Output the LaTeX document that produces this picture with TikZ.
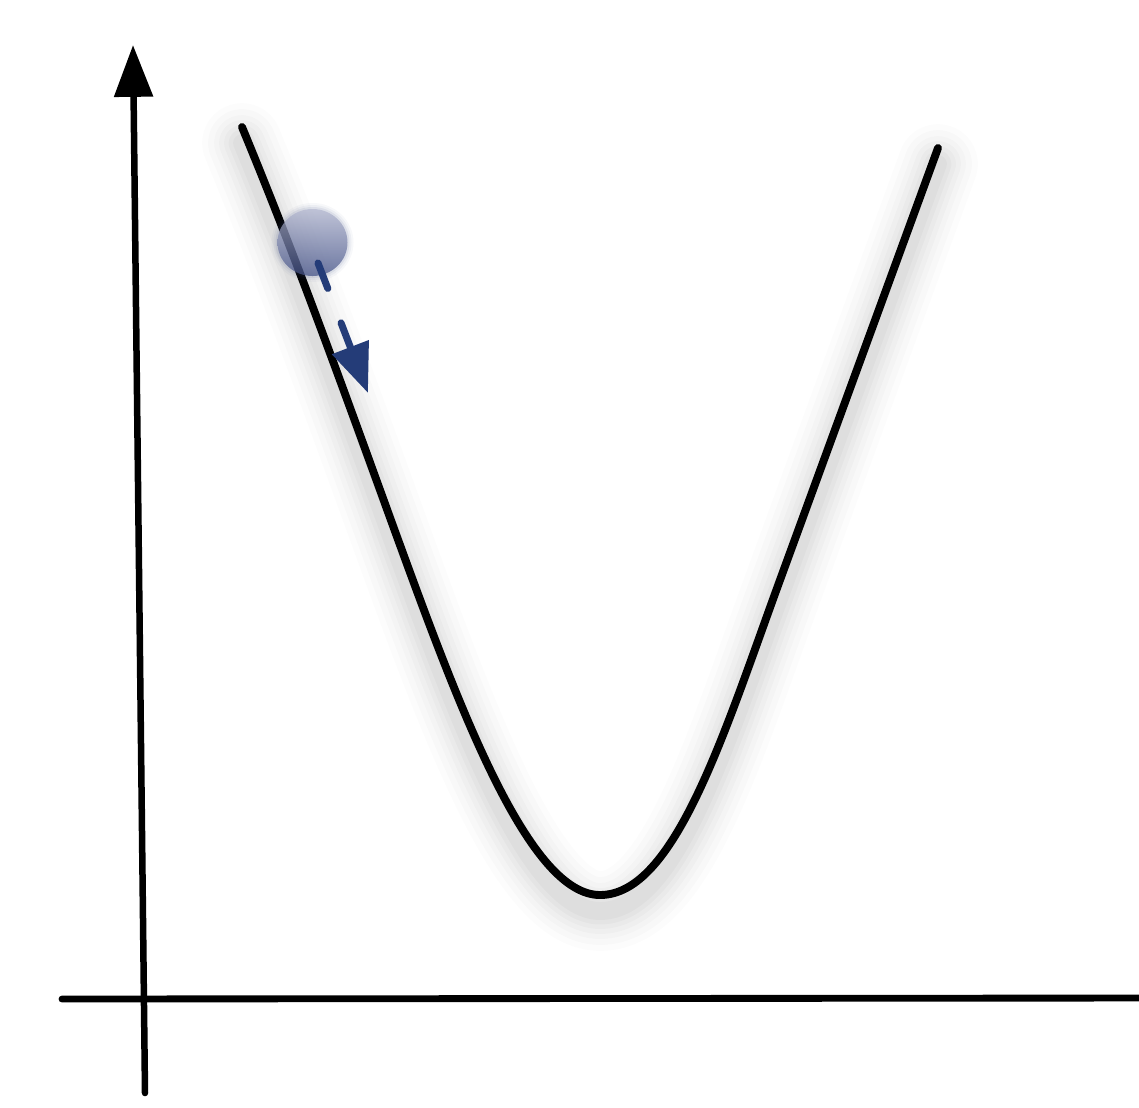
\documentclass[tikz,border=0pt]{standalone}
\usetikzlibrary{arrows.meta}
\definecolor{navyblue}{RGB}{36,60,120}
\definecolor{balltop}{RGB}{180,184,208}
\definecolor{ballbot}{RGB}{66,80,134}
\begin{document}
\begin{tikzpicture}[x=0.02cm,y=-0.02cm,
  axisline/.style={line width=3.9pt, line cap=round},
  curveline/.style={line width=4.5pt, line cap=round, line join=round},
  glow/.style={black, line cap=round, line join=round},
  movearrow/.style={navyblue, line width=4pt, line cap=round,
     dash pattern=on 15.5pt off 21pt,
     -{Triangle[length=28pt,width=21.5pt,line cap=butt]}},
]
\fill[white] (0,0) rectangle (1139,1107);
\useasboundingbox (0,0) rectangle (1139,1107);

% coordinates
\coordinate (yb) at (145,1093);
\coordinate (yt) at (133,45);
\coordinate (xl) at (62,999);
\coordinate (xr) at (1150,998);
\coordinate (ballc) at (312.5,242.5);
\coordinate (atail) at (318,263);
\coordinate (atip) at (368,393);

% soft shadow of curve
\foreach \w/\o in {80/0.012,68/0.014,56/0.016,46/0.018,36/0.02,27/0.022,18/0.024}{
  \draw[glow, line width=\w*0.567pt, opacity=\o, shift={(0,16)}]
    (242,127) .. controls (300,267) and (349,405) .. (400,545)
    .. controls (462,715) and (530,895) .. (600,895)
    .. controls (675,895) and (724,733) .. (780,580) -- (938,148);
}

% axes
\draw[axisline] (xl) -- (xr);
\draw[axisline, line width=3.7pt, -{Triangle[length=29.5pt,width=21.5pt,line cap=butt]}] (yb) -- (yt);

% curve
\draw[curveline]
    (242,127) .. controls (300,267) and (349,405) .. (400,545)
    .. controls (462,715) and (530,895) .. (600,895)
    .. controls (675,895) and (724,733) .. (780,580) -- (938,148);

% ball
\foreach \r/\o in {41/0.04,39/0.06,37/0.09}{
  \fill[ballbot, opacity=\o] (ballc) ellipse ({\r} and {\r-1.5});
}
\shade[top color=balltop, bottom color=ballbot, opacity=0.72] (ballc) ellipse (35 and 33.5);
\node[circle, inner sep=0pt, minimum size=0pt] (ball) at (ballc) {};

% motion arrow
\draw[movearrow] (atail) -- (atip);
\end{tikzpicture}
\end{document}
